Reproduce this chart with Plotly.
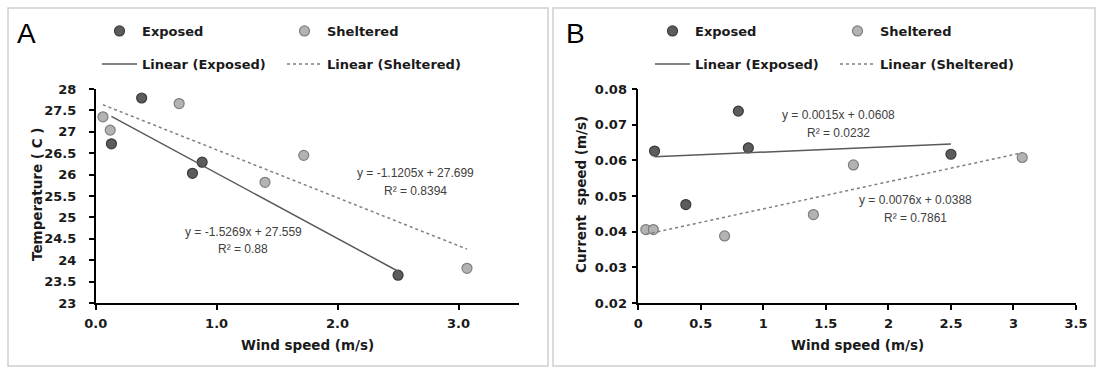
import plotly.graph_objects as go

# Wind speed (m/s) at each station
wind_exposed = [0.13, 0.38, 0.80, 0.88, 2.50]
wind_sheltered = [0.06, 0.12, 0.69, 1.40, 1.72, 3.07]

# Panel A: water temperature (C)
temp_exposed = [26.72, 27.79, 26.03, 26.29, 23.65]
temp_sheltered = [27.35, 27.04, 27.66, 25.82, 26.45, 23.81]

# Panel B: current speed (m/s)
curr_exposed = [0.0626, 0.0476, 0.0738, 0.0635, 0.0617]
curr_sheltered = [0.0406, 0.0406, 0.0388, 0.0448, 0.0587, 0.0608]

# Linear fits (slope, intercept, R^2)
fit_temp_exposed = (-1.5269, 27.559, 0.88)
fit_temp_sheltered = (-1.1205, 27.699, 0.8394)
fit_curr_exposed = (0.0015, 0.0608, 0.0232)
fit_curr_sheltered = (0.0076, 0.0388, 0.7861)

W, H = 1098, 369
BOLD = dict(family="DejaVu Sans", size=13, color="#1a1a1a", weight="bold")
TITLE_FONT = dict(family="DejaVu Sans", size=13.5, color="#1a1a1a", weight="bold")
EQ_FONT = dict(family="Liberation Sans", size=12, color="#404040")
DARK_FILL, DARK_EDGE = "#5c5c5c", "#3a3a3a"
LIGHT_FILL, LIGHT_EDGE = "#b3b3b3", "#7f7f7f"


def px(x):
    return x / W


def py(y):
    return 1 - y / H


def fit_line(xs, fit):
    lo, hi = min(xs), max(xs)
    return [lo, hi], [fit[0] * lo + fit[1], fit[0] * hi + fit[1]]


def eq_text(fit, digits):
    m, b, r2 = fit
    sign = "-" if m < 0 else ""
    return f"y = {sign}{abs(m):.4f}x + {b:.{digits}f}", f"R² = {r2}"


fig = go.Figure()

panels = [
    dict(xa="x", ya="y", leg1="legend", leg2="legend2",
         ye=temp_exposed, ys=temp_sheltered,
         fe=fit_temp_exposed, fs=fit_temp_sheltered),
    dict(xa="x2", ya="y2", leg1="legend3", leg2="legend4",
         ye=curr_exposed, ys=curr_sheltered,
         fe=fit_curr_exposed, fs=fit_curr_sheltered),
]

for p in panels:
    fig.add_trace(go.Scatter(
        x=wind_exposed, y=p["ye"], mode="markers", name="Exposed",
        xaxis=p["xa"], yaxis=p["ya"], legend=p["leg1"],
        marker=dict(size=10, color=DARK_FILL, line=dict(color=DARK_EDGE, width=1.2))))
    fig.add_trace(go.Scatter(
        x=wind_sheltered, y=p["ys"], mode="markers", name="Sheltered",
        xaxis=p["xa"], yaxis=p["ya"], legend=p["leg1"],
        marker=dict(size=10, color=LIGHT_FILL, line=dict(color=LIGHT_EDGE, width=1.2))))
    lx, ly = fit_line(wind_exposed, p["fe"])
    fig.add_trace(go.Scatter(
        x=lx, y=ly, mode="lines", name="Linear (Exposed)",
        xaxis=p["xa"], yaxis=p["ya"], legend=p["leg2"],
        line=dict(color="#595959", width=1.5)))
    lx, ly = fit_line(wind_sheltered, p["fs"])
    fig.add_trace(go.Scatter(
        x=lx, y=ly, mode="lines", name="Linear (Sheltered)",
        xaxis=p["xa"], yaxis=p["ya"], legend=p["leg2"],
        line=dict(color="#7f7f7f", width=1.5, dash="dot")))

# axes
y_dom = [py(303), py(89)]
common = dict(showgrid=False, zeroline=False, showline=True, linecolor="#000000",
              linewidth=1.5, ticks="outside", ticklen=5, tickwidth=1.5,
              tickcolor="#000000", tickfont=BOLD, automargin=False)
fig.update_layout(
    xaxis=dict(domain=[px(95.7), px(519)], range=[0, 3.5], tickvals=[0, 1, 2, 3],
               tickformat=".1f", anchor="y", ticklabelstandoff=3, **common),
    yaxis=dict(domain=y_dom, range=[23, 28], dtick=0.5, tick0=23, anchor="x",
               ticklabelstandoff=10, **common),
    xaxis2=dict(domain=[px(638.3), px(1076)], range=[0, 3.5], dtick=0.5, tick0=0,
                anchor="y2", ticklabelstandoff=3, **common),
    yaxis2=dict(domain=y_dom, range=[0.02, 0.08], dtick=0.01, tick0=0.02,
                tickformat=".2f", anchor="x2", ticklabelstandoff=2, **common),
)

# legends: two rows per panel
leg_common = dict(orientation="h", font=BOLD, bgcolor="rgba(0,0,0,0)",
                  entrywidth=135, entrywidthmode="pixels", xanchor="left",
                  yanchor="middle", itemwidth=35, itemclick=False, itemdoubleclick=False)
fig.update_layout(
    showlegend=True,
    legend=dict(x=px(97), y=py(31), **leg_common),
    legend2=dict(x=px(97), y=py(64), **leg_common),
    legend3=dict(x=px(650), y=py(31), **leg_common),
    legend4=dict(x=px(650), y=py(64), **leg_common),
)

annotations = []
# panel letters
for letter, x0 in (("A", 15), ("B", 564)):
    annotations.append(dict(text=letter, x=px(x0), y=py(33), xref="paper", yref="paper",
                            xanchor="left", yanchor="middle", showarrow=False,
                            font=dict(family="Liberation Sans", size=28, color="#000000")))
# axis titles
for cx in (307, 857):
    annotations.append(dict(text="Wind speed (m/s)", x=px(cx), y=py(345), xref="paper",
                            yref="paper", xanchor="center", yanchor="middle",
                            showarrow=False, font=TITLE_FONT))
annotations.append(dict(text="Temperature ( C )", x=px(37), y=py(195), xref="paper",
                        yref="paper", textangle=-90, xanchor="center", yanchor="middle",
                        showarrow=False, font=TITLE_FONT))
annotations.append(dict(text="Current  speed (m/s)", x=px(581), y=py(195), xref="paper",
                        yref="paper", textangle=-90, xanchor="center", yanchor="middle",
                        showarrow=False, font=TITLE_FONT))
# fit equations
for fit, digits, cx, cy in ((fit_temp_sheltered, 3, 415, 173),
                            (fit_temp_exposed, 3, 243, 232),
                            (fit_curr_exposed, 4, 838, 115),
                            (fit_curr_sheltered, 4, 915, 200)):
    l1, l2 = eq_text(fit, digits)
    for txt, yy in ((l1, cy), (l2, cy + 17.5)):
        annotations.append(dict(text=txt, x=px(cx), y=py(yy), xref="paper", yref="paper",
                                xanchor="center", yanchor="middle", showarrow=False,
                                font=EQ_FONT))

# panel frames
shapes = [
    dict(type="rect", xref="paper", yref="paper", x0=px(8), x1=px(548), y0=py(366), y1=py(8),
         line=dict(color="#cfcfcf", width=1.5)),
    dict(type="rect", xref="paper", yref="paper", x0=px(553), x1=px(1095), y0=py(366), y1=py(8),
         line=dict(color="#cfcfcf", width=1.5)),
]

fig.update_layout(
    width=W, height=H, margin=dict(l=0, r=0, t=0, b=0),
    paper_bgcolor="#ffffff", plot_bgcolor="#ffffff",
    annotations=annotations, shapes=shapes,
)

fig.write_html("out.html")
